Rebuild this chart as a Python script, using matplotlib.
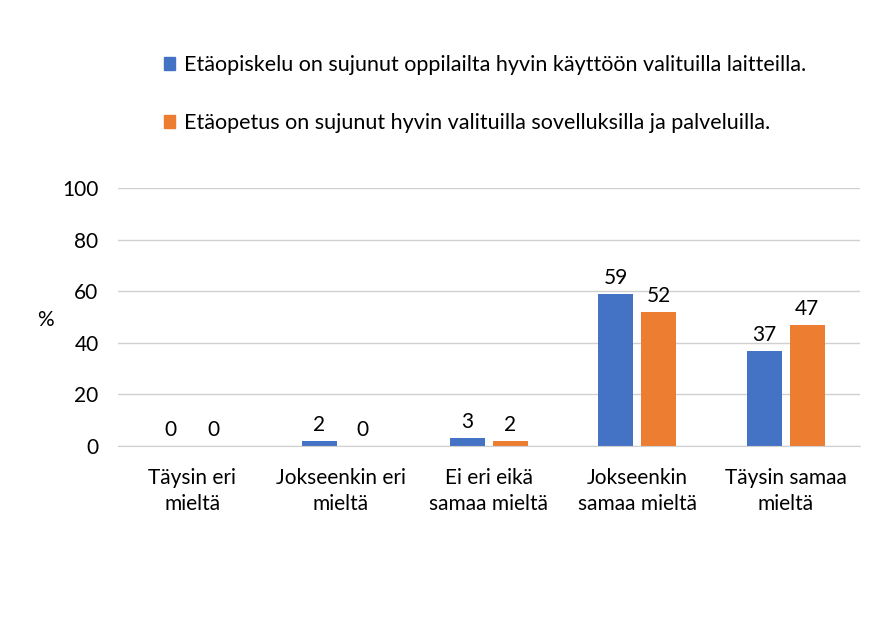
import numpy as np
import matplotlib.pyplot as plt
from matplotlib.patches import Patch

plt.rcParams['font.family'] = ['Lato', 'DejaVu Sans']

categories = ['Täysin eri\nmieltä', 'Jokseenkin eri\nmieltä', 'Ei eri eikä\nsamaa mieltä',
              'Jokseenkin\nsamaa mieltä', 'Täysin samaa\nmieltä']
opiskelu = [0, 2, 3, 59, 37]
opetus = [0, 0, 2, 52, 47]
labels = ['Etäopiskelu on sujunut oppilailta hyvin käyttöön valituilla laitteilla.',
          'Etäopetus on sujunut hyvin valituilla sovelluksilla ja palveluilla.']

blue = '#4472C4'
orange = '#ED7D31'
txt = 'black'

fig = plt.figure(figsize=(8.9, 6.25), dpi=100)
ax = fig.add_axes([0.1326, 0.2864, 0.8334, 0.4126])

x = np.arange(len(categories))
w = 0.236
off = 0.145
b1 = ax.bar(x - off, opiskelu, w, color=blue)
b2 = ax.bar(x + off, opetus, w, color=orange)
for bars in (b1, b2):
    for r in bars:
        ax.text(r.get_x() + r.get_width() / 2, r.get_height() + 2.3, f'{r.get_height():g}',
                ha='center', va='bottom', fontsize=15, color=txt)

ax.set_xlim(-0.5, len(categories) - 0.5)
ax.set_ylim(0, 100)
ax.set_yticks(np.arange(0, 101, 20))
ax.yaxis.grid(True, color='#D0D0D0', linewidth=1)
ax.set_axisbelow(True)
for s in ['top', 'right', 'left']:
    ax.spines[s].set_visible(False)
ax.spines['bottom'].set_color('#D0D0D0')
ax.tick_params(length=0, labelsize=15, colors=txt)
ax.tick_params(axis='y', pad=14)
ax.tick_params(axis='x', pad=16)
ax.set_xticks(x)
ax.set_xticklabels(categories, linespacing=1.35)
fig.text(45 / 890, 1 - 320 / 625, '%', fontsize=15, color=txt, ha='center', va='center')

handles = [Patch(color=blue), Patch(color=orange)]
fig.legend(handles, labels, loc='upper left', bbox_to_anchor=(0.162, 0.943), frameon=False,
           fontsize=15.5, labelcolor=txt, handlelength=0.55, handleheight=0.55,
           handletextpad=0.4, labelspacing=1.75)

fig.savefig('out.png', dpi=100)
